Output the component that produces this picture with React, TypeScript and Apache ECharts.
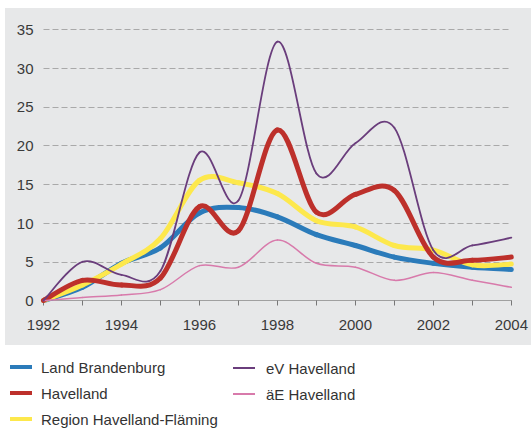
import React, { useEffect, useRef } from "react";
import * as echarts from "echarts";

const years = [1992, 1993, 1994, 1995, 1996, 1997, 1998, 1999, 2000, 2001, 2002, 2003, 2004];
const landBrandenburg = [0, 1.7, 4.8, 6.8, 11.3, 12.0, 10.8, 8.5, 7.1, 5.6, 4.8, 4.3, 4.0];
const havelland = [0, 2.6, 2.0, 2.9, 12.1, 9.0, 22.0, 11.4, 13.7, 14.2, 5.6, 5.2, 5.6];
const regionHF = [0, 2.0, 4.7, 8.0, 15.5, 15.2, 13.8, 10.3, 9.5, 7.1, 6.5, 4.6, 4.7];
const evHavelland = [0, 5.0, 3.3, 3.8, 19.1, 12.9, 33.4, 16.4, 20.3, 22.3, 6.5, 7.1, 8.1];
const aeHavelland = [0, 0.4, 0.7, 1.4, 4.5, 4.3, 7.8, 4.8, 4.3, 2.6, 3.6, 2.6, 1.7];

const names = ["Land Brandenburg", "Havelland", "Region Havelland-Fläming", "eV Havelland", "äE Havelland"];

const FONT = "Arial, 'Liberation Sans', Helvetica, sans-serif";

function pairs(vals: number[]) {
  return years.map((y, i) => [y, vals[i]]);
}

export default function App() {
  const ref = useRef<HTMLDivElement>(null);
  useEffect(() => {
    document.body.style.margin = "0";
    const chart = echarts.init(ref.current!, null, { renderer: "svg" });

    // smooth curve series: each segment drawn as a cardinal bezier between data points mapped by the axes
    const curve = (name: string, vals: number[], color: string, width: number, z: number) => {
      const data = pairs(vals);
      return {
        name,
        type: "custom",
        z,
        data,
        encode: { x: 0, y: 1 },
        itemStyle: { color },
        renderItem: (params: any, api: any) => {
          const i = params.dataIndex;
          const n = data.length;
          if (i >= n - 1) return null;
          const p = (k: number) => api.coord(data[Math.max(0, Math.min(n - 1, k))]);
          const p0 = p(i - 1);
          const p1 = p(i);
          const p2 = p(i + 1);
          const p3 = p(i + 2);
          const t = 6;
          return {
            type: "bezierCurve",
            shape: {
              x1: p1[0],
              y1: p1[1],
              cpx1: p1[0] + (p2[0] - p0[0]) / t,
              cpy1: p1[1] + (p2[1] - p0[1]) / t,
              cpx2: p2[0] - (p3[0] - p1[0]) / t,
              cpy2: p2[1] - (p3[1] - p1[1]) / t,
              x2: p2[0],
              y2: p2[1],
            },
            style: { stroke: color, lineWidth: width, fill: "none", lineCap: "round", lineJoin: "round" },
          };
        },
      };
    };

    chart.setOption({
      animation: false,
      backgroundColor: "#ffffff",
      graphic: [
        {
          type: "rect",
          left: 5,
          top: 8,
          z: -10,
          silent: true,
          shape: { width: 526, height: 337 },
          style: { fill: "#e7e8e9" },
        },
      ],
      grid: { left: 43.5, right: 2.5, top: 29.3, bottom: 136.5, containLabel: false },
      xAxis: {
        type: "value",
        min: 1992,
        max: 2004,
        interval: 1,
        axisLine: { show: true, lineStyle: { color: "#a0a0a0", width: 1 } },
        axisTick: { show: true, length: 5, lineStyle: { color: "#777", width: 1 } },
        splitLine: { show: false },
        axisLabel: {
          margin: 16,
          color: "#3a3a3a",
          fontFamily: FONT,
          fontSize: 15,
          showMaxLabel: true,
          showMinLabel: true,
          formatter: (v: number) => (v % 2 === 0 ? String(v) : ""),
        },
      },
      yAxis: {
        type: "value",
        min: 0,
        max: 35,
        interval: 5,
        axisLine: { show: false },
        axisTick: { show: false },
        splitLine: { show: true, lineStyle: { color: "#a9a9a9", width: 1, type: [6, 3] } },
        axisLabel: { margin: 10, color: "#3a3a3a", fontFamily: FONT, fontSize: 15 },
      },
      legend: [
        {
          orient: "vertical",
          left: 5,
          top: 354,
          itemWidth: 22,
          itemHeight: 4,
          itemGap: 10,
          icon: "rect",
          data: [names[0], names[1], names[2]],
          textStyle: { color: "#333", fontFamily: FONT, fontSize: 15, lineHeight: 16, padding: [0, 0, 0, 4] },
        },
        {
          orient: "vertical",
          left: 228,
          top: 355,
          itemWidth: 22,
          itemHeight: 2,
          itemGap: 10,
          icon: "rect",
          data: [names[3], names[4]],
          textStyle: { color: "#333", fontFamily: FONT, fontSize: 15, lineHeight: 16, padding: [0, 0, 0, 6] },
        },
      ],
      series: [
        curve(names[0], landBrandenburg, "#2b7bba", 5, 2),
        curve(names[2], regionHF, "#fde84c", 5, 3),
        curve(names[1], havelland, "#bd302b", 5, 4),
        curve(names[4], aeHavelland, "#d87aab", 1.5, 5),
        curve(names[3], evHavelland, "#6a3d7c", 1.8, 6),
      ],
    });
    return () => chart.dispose();
  }, []);
  return <div ref={ref} style={{ position: "absolute", left: 0, top: 0, width: 531, height: 437 }} />;
}
